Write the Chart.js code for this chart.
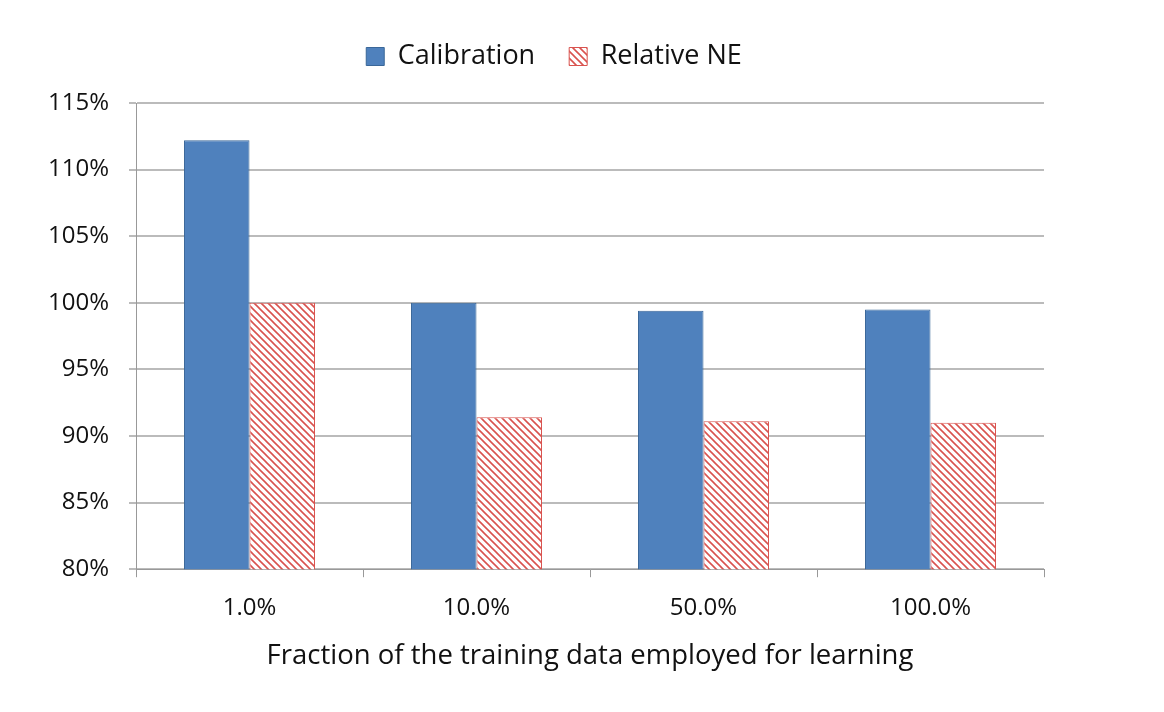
<!DOCTYPE html>
<html>
<head>
<meta charset="utf-8">
<script src="https://cdn.jsdelivr.net/npm/chart.js@4/dist/chart.umd.min.js"></script>
<style>
  html, body { margin: 0; padding: 0; background: #fff; }
  #wrap { width: 1164px; height: 712px; }
</style>
</head>
<body>
<div id="wrap"><canvas id="chart" width="1164" height="712"></canvas></div>
<script>
const categories = ["1.0%", "10.0%", "50.0%", "100.0%"];
const calibration = [112.2, 100.0, 99.4, 99.5];
const relativeNE = [100.0, 91.4, 91.1, 91.0];
const yTicks = [80, 85, 90, 95, 100, 105, 110, 115];

// diagonal hatch for Relative NE
function makeHatch() {
    let c = document.createElement("canvas");
    c.width = 7; c.height = 7;
    let g = c.getContext("2d");
    g.fillStyle = "#fff";
    g.fillRect(0, 0, 7, 7);
    g.strokeStyle = "#d9534f";
    g.lineWidth = 1.6;
    g.beginPath();
    g.moveTo(-1, -1); g.lineTo(8, 8);
    g.moveTo(-1, 6); g.lineTo(1, 8);
    g.moveTo(6, -1); g.lineTo(8, 1);
    g.stroke();
    return document.getElementById("chart").getContext("2d").createPattern(c, "repeat");
}

// extra space under the legend, and nudge it right over the plot
const legendGap = {
    id: "legendGap",
    beforeInit(chart) {
        const fit = chart.legend.fit;
        chart.legend.fit = function () {
            fit.bind(chart.legend)();
            this.height += 23;
        };
    },
    afterLayout(chart) {
        chart.legend.left += 18;
        chart.legend.right += 18;
    },
};

Chart.defaults.font.family = "'Open Sans', sans-serif";
Chart.defaults.color = "#111";

let ctx = document.getElementById("chart").getContext("2d");
new Chart(ctx, {
    type: "bar",
    data: {
        labels: categories,
        datasets: [
            {
                label: "Calibration",
                data: calibration,
                backgroundColor: "#4f81bd",
                borderColor: "#3a6799",
                borderWidth: 1,
                categoryPercentage: 0.577,
                barPercentage: 1.0,
            },
            {
                label: "Relative NE",
                data: relativeNE,
                backgroundColor: makeHatch(),
                borderColor: "#d9534f",
                borderWidth: 1,
                categoryPercentage: 0.577,
                barPercentage: 1.0,
            },
        ],
    },
    plugins: [legendGap],
    options: {
        responsive: false,
        animation: false,
        layout: { padding: { left: 28, right: 120, top: 9, bottom: 35 } },
        plugins: {
            legend: {
                position: "top",
                labels: {
                    boxWidth: 18,
                    boxHeight: 18,
                    padding: 34,
                    font: { size: 27 },
                },
            },
            tooltip: { enabled: false },
        },
        scales: {
            x: {
                grid: {
                    offset: true,
                    drawOnChartArea: false,
                    color: "#999",
                    tickLength: 8,
                },
                border: { color: "#999" },
                ticks: { font: { size: 24 }, padding: 17 },
                title: {
                    display: true,
                    text: "Fraction of the training data employed for learning",
                    font: { size: 27.5 },
                    padding: { top: 0 },
                },
            },
            y: {
                min: 80,
                max: 115,
                afterBuildTicks: (axis) => { axis.ticks = yTicks.map(v => ({ value: v })); },
                grid: { color: "#bbb", lineWidth: 2, tickLength: 7 },
                border: { color: "#999" },
                ticks: {
                    font: { size: 24 },
                    padding: 20,
                    callback: (v) => v + "%",
                },
            },
        },
    },
});
</script>
</body>
</html>
